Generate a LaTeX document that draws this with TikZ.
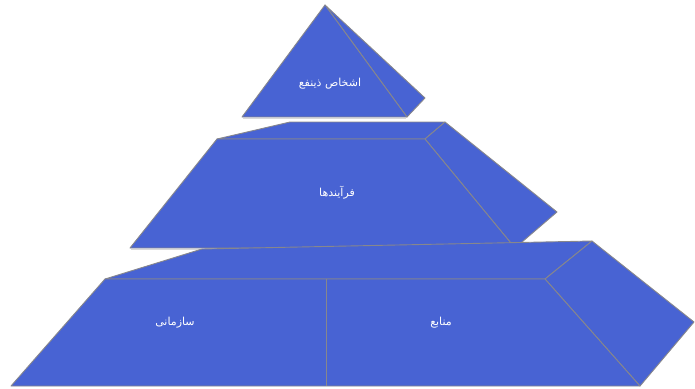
\documentclass[tikz,border=0pt]{standalone}
\usepackage{fontspec}
\newfontfamily\arabicfont[Script=Arabic]{DejaVu Sans}
\TeXXeTstate=1
\definecolor{face}{RGB}{72,99,211}
\definecolor{edge}{RGB}{135,135,140}
\begin{document}
\begin{tikzpicture}[x=1pt,y=-1pt,
  facestyle/.style={fill=face,draw=edge,line width=0.9pt,line join=round},
  lbl/.style={text=white,font=\arabicfont\fontsize{11}{13}\selectfont}]
\useasboundingbox (0,0) rectangle (695,388);
% top pyramid
\coordinate (tA) at (325,5);
\coordinate (tL) at (242,117);
\coordinate (tR) at (407,117);
\coordinate (tS) at (425,98);
\fill[facestyle] (tA) -- (tS) -- (tR) -- cycle;
\fill[facestyle] (tA) -- (tL) -- (tR) -- cycle;
\draw[black!15,line width=1pt] (243,118.5) -- (406,118.5);
\node[lbl] (top) at (330,84) {\beginR اشخاص ذینفع\endR};
% middle frustum
\coordinate (mFL) at (217,139);
\coordinate (mFR) at (425,139);
\coordinate (mBL) at (130,248);
\coordinate (mBR) at (515,248);
\coordinate (mKL) at (290,122);
\coordinate (mKR) at (445,122);
\coordinate (mS) at (557,212);
\fill[facestyle] (mFL) -- (mKL) -- (mKR) -- (mFR) -- cycle;
\fill[facestyle] (mFR) -- (mKR) -- (mS) -- (mBR) -- cycle;
\fill[facestyle] (mFL) -- (mFR) -- (mBR) -- (mBL) -- cycle;
\draw[black!15,line width=1pt] (131,249.5) -- (514,249.5);
\node[lbl] (mid) at (337,193) {\beginR فرآیندها\endR};
% bottom frustum
\coordinate (bFL) at (105,279);
\coordinate (bFR) at (545,279);
\coordinate (bBL) at (11,386);
\coordinate (bBR) at (640,386);
\coordinate (bKL) at (202,249);
\coordinate (bKR) at (592,241);
\coordinate (bS) at (694,322);
\coordinate (dT) at (326,279);
\coordinate (dB) at (326,386);
\fill[facestyle] (bFL) -- (bKL) -- (bKR) -- (bFR) -- cycle;
\fill[facestyle] (bFR) -- (bKR) -- (bS) -- (bBR) -- cycle;
\fill[facestyle] (bFL) -- (bFR) -- (bBR) -- (bBL) -- cycle;
\draw[edge,line width=0.8pt] (dT) -- (dB);
\node[lbl] (bl) at (175,323) {\beginR سازمانی\endR};
\node[lbl] (br) at (441,323) {\beginR منابع\endR};
\end{tikzpicture}
\end{document}
